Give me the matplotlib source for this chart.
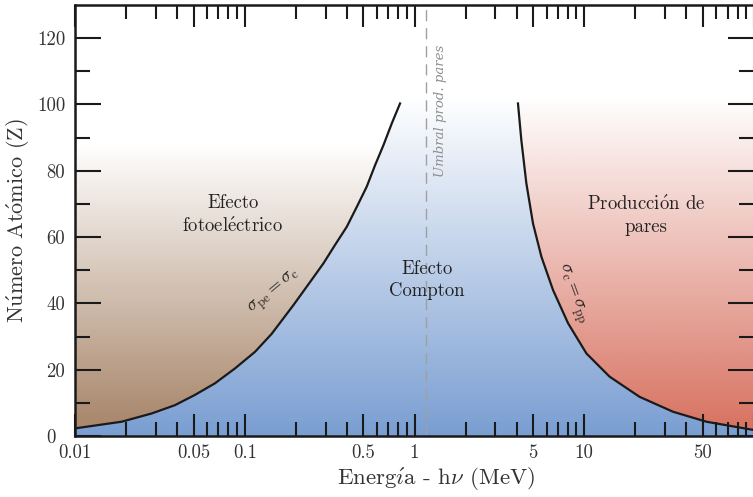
import numpy as np
import matplotlib.pyplot as plt
from matplotlib.colors import to_rgb
from matplotlib.patches import Polygon
from matplotlib.transforms import ScaledTranslation
from matplotlib.ticker import FixedLocator, FixedFormatter, NullFormatter

plt.rcParams['font.family'] = ['cmr10', 'DejaVu Serif']
plt.rcParams['mathtext.fontset'] = 'cm'
plt.rcParams['axes.unicode_minus'] = False

# boundary sigma_pe = sigma_c
pe_energy = [0.01, 0.0188, 0.0283, 0.0388, 0.0509, 0.0668, 0.0877, 0.115, 0.144,
             0.193, 0.243, 0.291, 0.340, 0.399, 0.457, 0.523,
             0.586, 0.656, 0.735, 0.822]
pe_z = [2.3, 4.3, 6.8, 9.3, 12.4, 15.9, 20.4, 25.4, 30.8,
        39.4, 46.5, 52.1, 57.6, 63.1, 69.1, 75.2,
        81.7, 87.7, 94.3, 100.3]

# boundary sigma_c = sigma_pp
pp_energy = [4.07, 4.26, 4.56, 4.99, 5.59, 6.55, 8.03, 10.3, 14.1, 21.2, 33.4, 52.5, 100.0]
pp_z = [100.3, 89.2, 76.2, 64.1, 54.1, 44.0, 34.0, 24.9, 17.9, 11.8, 7.3, 4.3, 1.8]

threshold = 1.17

x_major = [0.01, 0.05, 0.1, 0.5, 1, 5, 10, 50, 100]
x_labels = ['0.01', '0.05', '0.1', '0.5', '1', '5', '10', '50', '']
x_minor = [m * d for d in (0.01, 0.1, 1, 10) for m in (2, 3, 4, 6, 7, 8, 9)]
y_major = [0, 20, 40, 60, 80, 100, 120]
y_minor = [10, 30, 50, 70, 90, 110]

XMIN, XMAX, YMIN, YMAX = 0.01, 100, 0, 130


def gradient(ax, color, z_top, clip=None, z_start=0):
    # vertical fade from colour (bottom) to white at z_top
    rgb = np.array(to_rgb(color))
    z = np.linspace(YMIN, YMAX, 600)
    t = np.clip((z - z_start) / (z_top - z_start), 0, 1)[:, None]
    img = rgb * (1 - t) + t
    im = ax.imshow(img[:, None, :], extent=[XMIN, XMAX, YMIN, YMAX], origin='lower',
                   aspect='auto', interpolation='bilinear', zorder=0)
    if clip is not None:
        patch = Polygon(clip, closed=True, transform=ax.transData,
                        facecolor='none', edgecolor='none')
        ax.add_patch(patch)
        im.set_clip_path(patch)
    return im


fig = plt.figure(figsize=(7.53, 4.97), dpi=100)
ax = fig.add_axes([75 / 753, 61 / 497, 679 / 753, 431 / 497])
ax.set_xscale('log')

gradient(ax, '#7A9ED2', 102)
photo_region = [(XMIN, YMAX)] + list(zip(pe_energy, pe_z)) + [(pe_energy[-1], YMAX)]
gradient(ax, '#AA896E', 88, photo_region, z_start=5)
pair_region = [(pp_energy[0], YMAX)] + list(zip(pp_energy, pp_z)) + [(XMAX, YMAX)]
gradient(ax, '#D87463', 102, pair_region, z_start=3)

line_kw = dict(color='#1a1a1a', lw=1.6, zorder=3, solid_joinstyle='round')
ax.plot(pe_energy, pe_z, **line_kw)
ax.plot(pp_energy, pp_z, **line_kw)
ax.axvline(threshold, color='#a0a0a0', lw=1.0, ls=(0, (8, 5)), zorder=2)

ax.text(1.42, 98, 'Umbral prod. pares', rotation=90, ha='center', va='center',
        fontsize=9.5, color='#8f8f8f', style='italic', family='DejaVu Serif')
ax.text(0.085, 66.6, 'Efecto\nfotoel$\\mathrm{\\acute{e}}$ctrico', ha='center', va='center',
        fontsize=13.5, color='#222222', linespacing=1.3)
ax.text(1.18, 47, 'Efecto\nCompton', ha='center', va='center', fontsize=13.5,
        color='#222222', linespacing=1.3)
ax.text(23.2, 66.6, 'Producci$\\mathrm{\\acute{o}}$n de\npares', ha='center', va='center',
        fontsize=13.5, color='#222222', linespacing=1.3)
ax.text(0.15, 43.5, r'$\sigma_{\rm pe} = \sigma_{\rm c}$', rotation=40, ha='center', va='center',
        fontsize=13, color='#222222')
ax.text(8.4, 43, r'$\sigma_{\rm c} = \sigma_{\rm pp}$', rotation=-70, ha='center', va='center',
        fontsize=13, color='#222222')

ax.set_xlim(XMIN, XMAX)
ax.set_ylim(YMIN, YMAX)
ax.xaxis.set_major_locator(FixedLocator(x_major))
ax.xaxis.set_major_formatter(FixedFormatter(x_labels))
ax.xaxis.set_minor_locator(FixedLocator(x_minor))
ax.xaxis.set_minor_formatter(NullFormatter())
ax.set_yticks(y_major)
ax.set_yticks(y_minor, minor=True)

ax.tick_params(which='both', direction='in', top=True, right=True, width=1.5,
               color='#1a1a1a', labelsize=13.5, labelcolor='#333333')
ax.tick_params(axis='x', which='major', length=16, pad=6)
ax.tick_params(axis='x', which='minor', length=10)
ax.tick_params(axis='y', which='major', length=19, pad=7)
ax.tick_params(axis='y', which='minor', length=11)

for side in ('left', 'top', 'bottom'):
    ax.spines[side].set_linewidth(1.8)
    ax.spines[side].set_color('#1a1a1a')
ax.spines['right'].set_visible(False)

ax.set_xlabel('Energ$\\mathrm{\\acute{\\imath}}$a - h$\\nu$ (MeV)', fontsize=16.5,
              color='#333333')
ax.xaxis.set_label_coords(0.532, -0.07)
ax.set_ylabel('N$\\mathrm{\\acute{u}}$mero At$\\mathrm{\\acute{o}}$mico (Z)', fontsize=16,
              color='#333333')
ax.yaxis.set_label_coords(-0.063, 0.5)

# nudge the "0" label left so it clears "0.01"
fig.canvas.draw()
zero = ax.yaxis.get_major_ticks()[0].label1
zero.set_transform(zero.get_transform() + ScaledTranslation(-7 / 72, 0, fig.dpi_scale_trans))

fig.savefig('out.png', dpi=100)
